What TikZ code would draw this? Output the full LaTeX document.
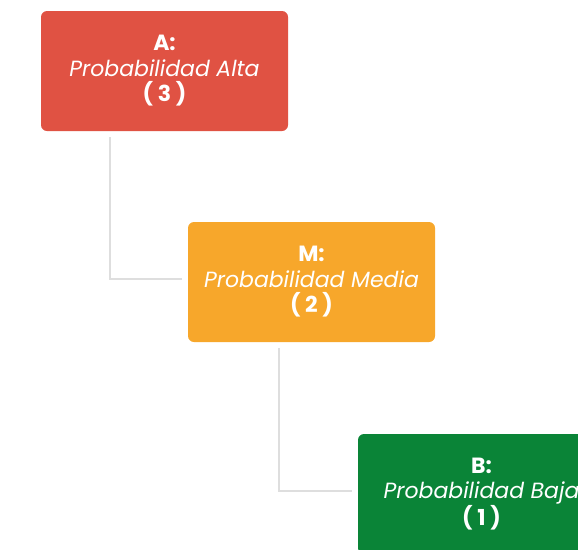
\documentclass[tikz,border=0pt]{standalone}
\usepackage{fontspec}
\setmainfont{Poppins}
\definecolor{cred}{HTML}{E05243}
\definecolor{corange}{HTML}{F7A72B}
\definecolor{cgreen}{HTML}{0A8437}
\definecolor{cline}{HTML}{DEDEDE}
\tikzset{
  box/.style={rounded corners=6pt, minimum width=247pt, minimum height=120pt, inner sep=0pt, text=white, align=center, font=\fontsize{22}{25.5}\selectfont},
  conn/.style={draw=cline, line width=2pt}
}
\begin{document}
\begin{tikzpicture}[x=1pt,y=-1pt]
\useasboundingbox (0,0) rectangle (578,549);
\clip (0,0) rectangle (578,549);
\node[box, fill=cred] (a) at (164.5,71) {\textbf{A:}\\\textit{Probabilidad Alta}\\\textbf{( 3 )}};
\node[box, fill=corange] (m) at (311.5,282) {\textbf{M:}\\\textit{Probabilidad Media}\\\textbf{( 2 )}};
\node[box, fill=cgreen] (b) at (481.5,494) {\textbf{B:}\\\textit{Probabilidad Baja}\\\textbf{( 1 )}};
\coordinate (a1) at (110,137);
\coordinate (a2) at (182,279);
\coordinate (m1) at (279,348);
\coordinate (m2) at (352,491);
\draw[conn] (a1) |- (a2);
\draw[conn] (m1) |- (m2);
\end{tikzpicture}
\end{document}
